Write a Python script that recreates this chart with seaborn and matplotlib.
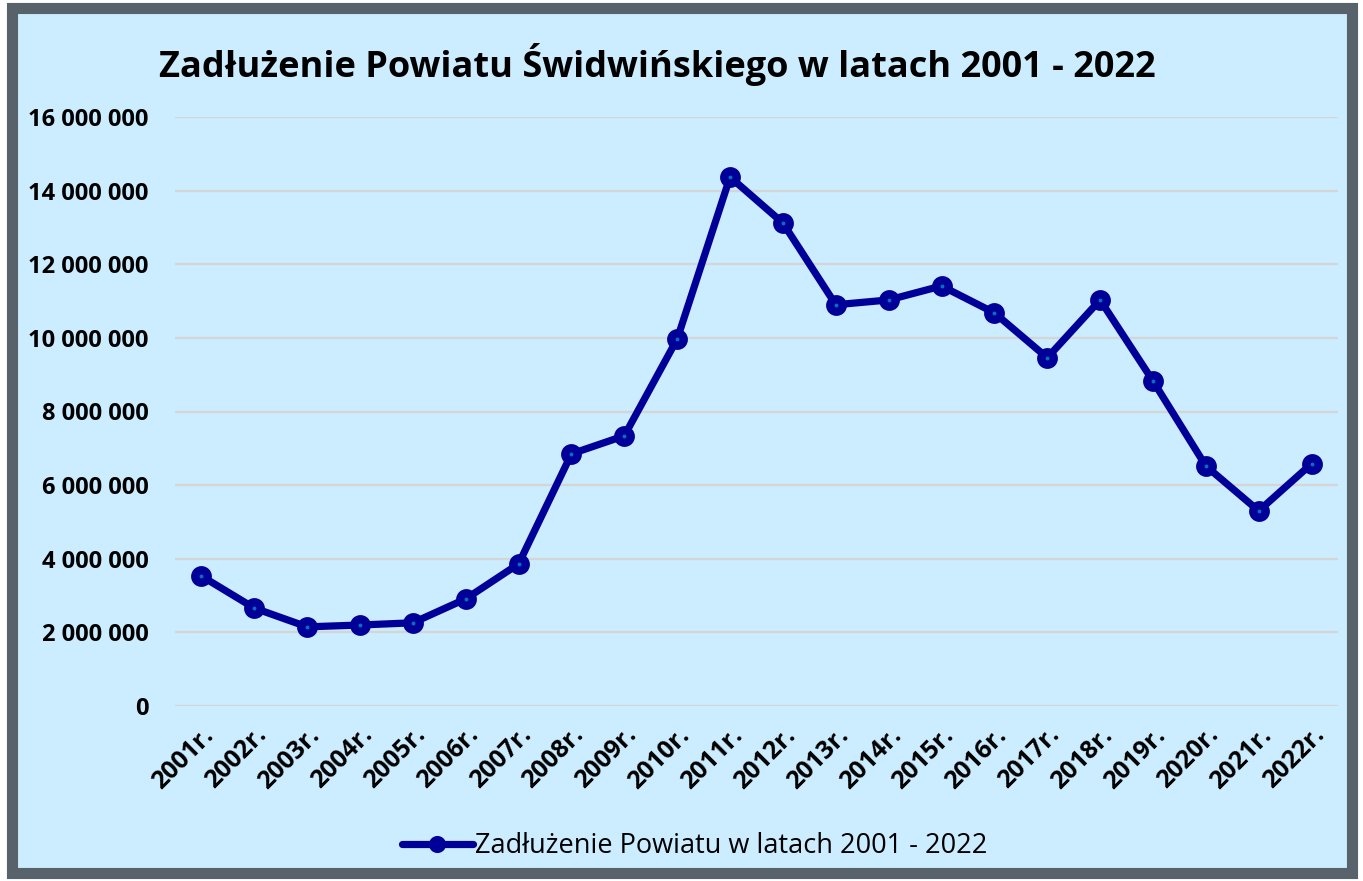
import numpy as np
import matplotlib.pyplot as plt
import matplotlib.patches as mpatches
import matplotlib.ticker as mticker
import seaborn as sns
import pandas as pd

lata = [f"{r}r." for r in range(2001, 2023)]
zadluzenie = [3530000, 2660000, 2150000, 2200000, 2260000, 2910000, 3860000,
              6850000, 7340000, 9970000, 14370000, 13120000, 10900000, 11030000,
              11410000, 10680000, 9460000, 11030000, 8830000, 6520000, 5300000,
              6580000]
seria = "Zadłużenie Powiatu w latach 2001 - 2022"
tytul = "Zadłużenie Powiatu Świdwińskiego w latach 2001 - 2022"

tlo = "#CCECFF"
granat = "#000099"

df = pd.DataFrame({"rok": lata, "kwota": zadluzenie})

sns.set_style("white")
plt.rcParams["font.family"] = ["Open Sans", "DejaVu Sans"]
plt.rcParams["text.color"] = "black"
plt.rcParams["xtick.color"] = "black"
plt.rcParams["ytick.color"] = "black"

fig = plt.figure(figsize=(13.63, 8.81), dpi=100)
fig.patch.set_facecolor("white")
# ramka wykresu
fig.patches.append(mpatches.Rectangle((12 / 1363, 8 / 881), 1340 / 1363, 865 / 881,
                                      transform=fig.transFigure, facecolor=tlo,
                                      edgecolor="#58626A", linewidth=8, zorder=-1))

ax = fig.add_axes([175 / 1363, 1 - 706 / 881, (1338 - 175) / 1363, (706 - 117) / 881])
ax.set_facecolor("none")

sns.lineplot(data=df, x="rok", y="kwota", ax=ax, color=granat, linewidth=5.2,
             marker="o", markersize=9, markerfacecolor="#0070C0",
             markeredgecolor=granat, markeredgewidth=6, label=seria, sort=False)

ax.set_ylim(0, 16000000)
ax.set_xlim(-0.5, len(lata) - 0.5)
ax.yaxis.set_major_locator(mticker.MultipleLocator(2000000))
ax.yaxis.set_major_formatter(mticker.FuncFormatter(lambda v, p: f"{int(v):,}".replace(",", " ")))
ax.grid(axis="y", color="#D5D5D5", linewidth=1.6)
ax.set_axisbelow(True)
for s in ax.spines.values():
    s.set_visible(False)
ax.tick_params(axis="both", length=0)
ax.tick_params(axis="y", pad=19)
ax.tick_params(axis="x", pad=12)
for t in ax.get_yticklabels():
    t.set_fontsize(17)
    t.set_fontweight("bold")
for t in ax.get_xticklabels():
    t.set_fontsize(18)
    t.set_fontweight("bold")
    t.set_rotation(45)
    t.set_ha("right")
    t.set_rotation_mode("anchor")
ax.set_xlabel("")
ax.set_ylabel("")

fig.text(657 / 1363, 1 - 65 / 881, tytul, ha="center", va="center",
         fontsize=26, fontweight="bold", color="black")

ax.legend(loc="center", bbox_to_anchor=(695 / 1363, 1 - 846 / 881),
          bbox_transform=fig.transFigure, frameon=False, fontsize=19.5,
          handlelength=2.6, handletextpad=0.1, markerscale=0.7)

fig.savefig("out.png", dpi=100, facecolor="white")
